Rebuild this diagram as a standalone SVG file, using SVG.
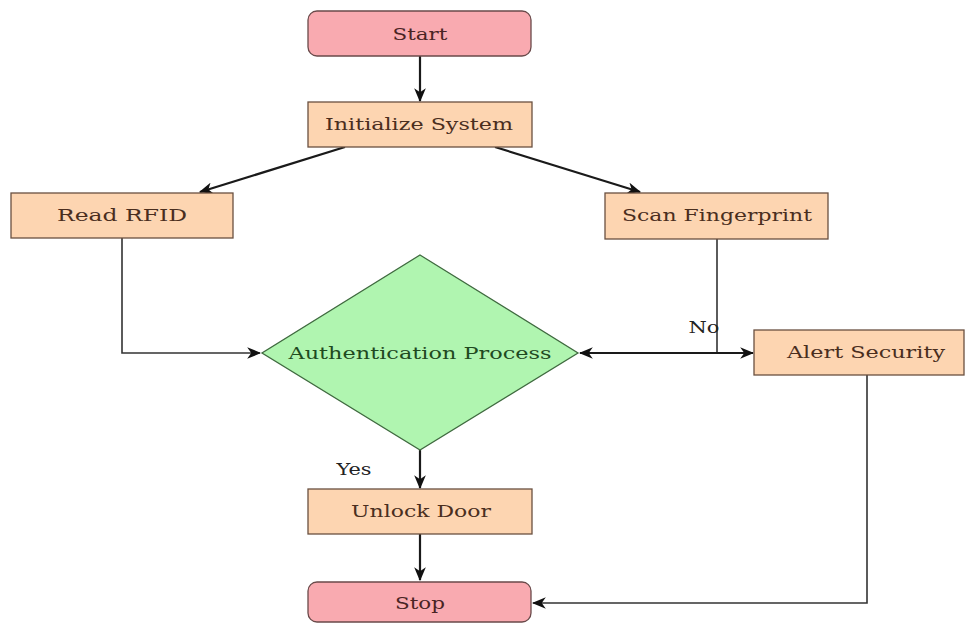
<svg xmlns="http://www.w3.org/2000/svg" width="966" height="625" viewBox="0 0 966 625">
<defs>
<style>
.term{fill:#f9aab0;stroke:#6a4a4a;stroke-width:1.3}
.proc{fill:#fdd5b1;stroke:#6a5040;stroke-width:1.3}
.dec{fill:#b0f5b0;stroke:#3f6a3f;stroke-width:1.3}
text{font-family:"DejaVu Serif","Liberation Serif",serif;font-size:17px;text-anchor:middle}
.tt{fill:#4a2424}
.tp{fill:#4a2e1e}
.td{fill:#1f4a1f}
.tl{fill:#222}
.c{fill:none;stroke:#1a1a1a;stroke-width:2.2}
.c2{fill:none;stroke:#333;stroke-width:1.6}
</style>
<marker id="ah2" viewBox="0 0 12 10" refX="11" refY="5" markerWidth="14" markerHeight="12" markerUnits="userSpaceOnUse" orient="auto">
<path d="M0,0 L12,5 L0,10 L3.5,5 z" fill="#111"/>
</marker>
</defs>
<g id="connectors">
<path class="c" d="M420,56 L420,101" marker-end="url(#ah2)"/>
<path class="c" d="M345,147 L200,192" marker-end="url(#ah2)"/>
<path class="c" d="M495,147 L640,192" marker-end="url(#ah2)"/>
<path class="c2" d="M122,238 L122,353 L260,353" marker-end="url(#ah2)"/>
<path class="c2" d="M717,239 L717,353"/>
<path class="c" d="M717,353 L580,353" marker-end="url(#ah2)"/>
<path class="c" d="M717,353 L753,353" marker-end="url(#ah2)"/>
<path class="c" d="M420,450 L420,488" marker-end="url(#ah2)"/>
<path class="c" d="M420,534 L420,580" marker-end="url(#ah2)"/>
<path class="c2" d="M867,375 L867,603 L533,603" marker-end="url(#ah2)"/>
<text class="tl" x="704" y="333" textLength="31" lengthAdjust="spacingAndGlyphs">No</text>
<text class="tl" x="354" y="475" textLength="35" lengthAdjust="spacingAndGlyphs">Yes</text>
</g>
<g id="start">
<rect class="term" x="308" y="11" width="223" height="45" rx="9"/>
<text class="tt" x="420" y="40" textLength="55" lengthAdjust="spacingAndGlyphs">Start</text>
</g>
<g id="init">
<rect class="proc" x="308" y="102" width="224" height="45"/>
<text class="tp" x="419" y="130" textLength="188" lengthAdjust="spacingAndGlyphs">Initialize System</text>
</g>
<g id="rfid">
<rect class="proc" x="11" y="193" width="222" height="45"/>
<text class="tp" x="122" y="221" textLength="130" lengthAdjust="spacingAndGlyphs">Read RFID</text>
</g>
<g id="finger">
<rect class="proc" x="605" y="193" width="223" height="46"/>
<text class="tp" x="717" y="221" textLength="190" lengthAdjust="spacingAndGlyphs">Scan Fingerprint</text>
</g>
<g id="auth">
<polygon class="dec" points="420,255 578,353 420,450 262,353"/>
<text class="td" x="420" y="359" textLength="263" lengthAdjust="spacingAndGlyphs">Authentication Process</text>
</g>
<g id="alert">
<rect class="proc" x="754" y="330" width="210" height="45"/>
<text class="tp" x="866" y="358" textLength="158" lengthAdjust="spacingAndGlyphs">Alert Security</text>
</g>
<g id="unlock">
<rect class="proc" x="308" y="489" width="224" height="45"/>
<text class="tp" x="421" y="517" textLength="140" lengthAdjust="spacingAndGlyphs">Unlock Door</text>
</g>
<g id="stop">
<rect class="term" x="308" y="582" width="223" height="40" rx="9"/>
<text class="tt" x="420" y="609" textLength="50" lengthAdjust="spacingAndGlyphs">Stop</text>
</g>
</svg>
